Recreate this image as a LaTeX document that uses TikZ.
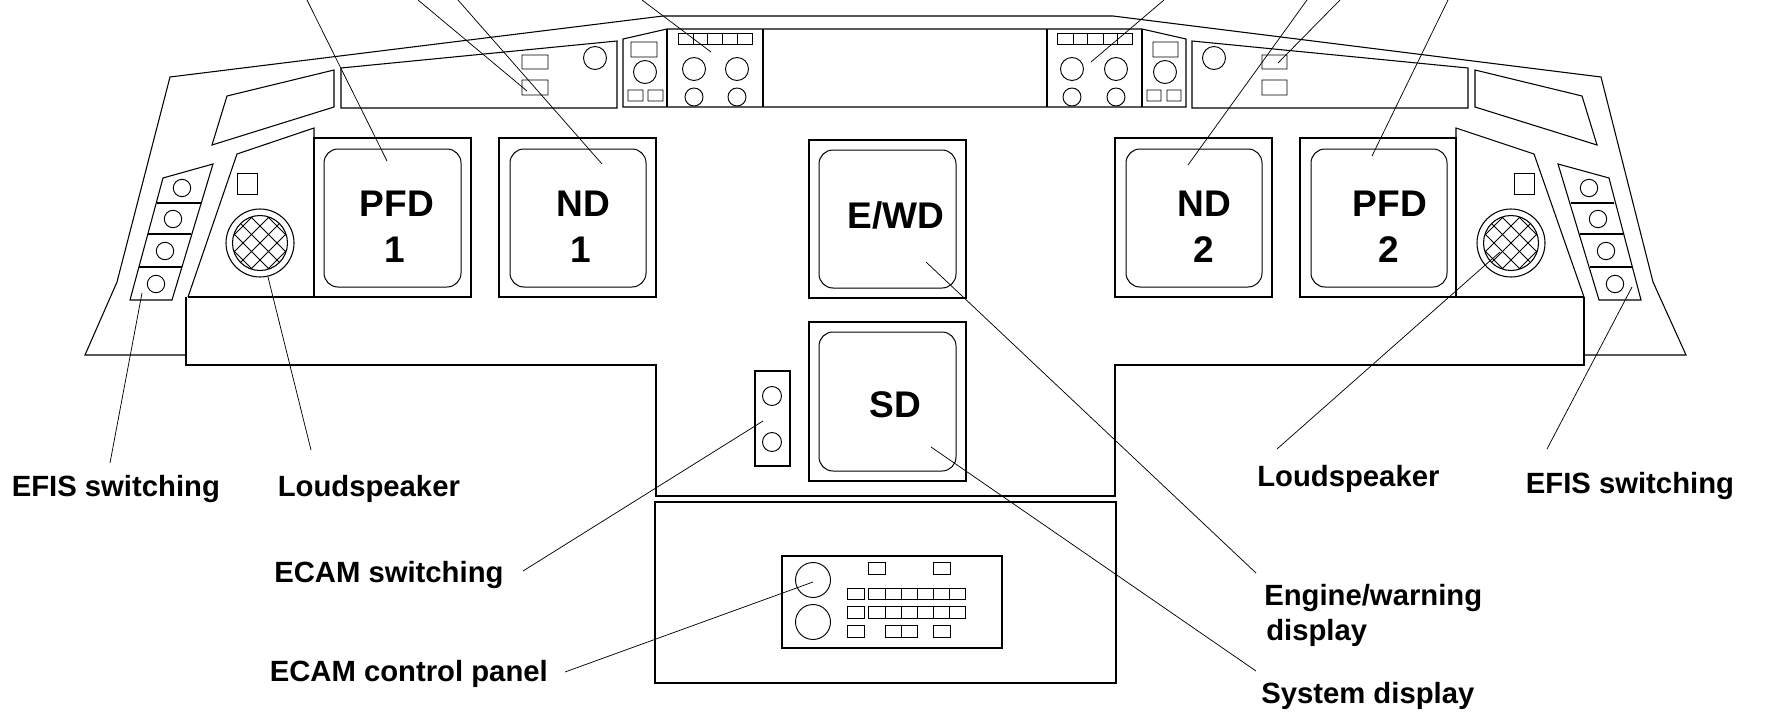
\documentclass[tikz,border=0pt]{standalone}
\usepackage{fontspec}
\setmainfont{Liberation Sans}
\tikzset{
  ln/.style={draw=black,line width=0.8pt,line join=miter},
  thin ln/.style={draw=black,line width=0.7pt},
  leader/.style={draw=black,line width=0.55pt},
  screen/.style={draw=black,line width=0.75pt,rounded corners=10.5pt},
  lbl/.style={inner sep=0pt,anchor=base west,font=\fontsize{21.95}{26}\selectfont\bfseries},
  big/.style={inner sep=0pt,anchor=base,font=\fontsize{27.8}{32}\selectfont\bfseries},
  hatchline/.style={draw=black,line width=0.6pt}
}
\newcommand{\Speaker}[3]{%
  \node[circle,minimum size=51pt,inner sep=0pt,ln] (#1) at (#2,#3) {};
  \begin{scope}
    \clip (#2,#3) circle (27.5);
    \foreach \d in {-51,-34,...,51} {
      \draw[hatchline] (#2-40,#3+\d-40) -- (#2+40,#3+\d+40);
      \draw[hatchline] (#2-40,#3+\d+40) -- (#2+40,#3+\d-40);
    }
  \end{scope}
  \draw[ln] (#2,#3) circle (27.5);
}
\begin{document}
\begin{tikzpicture}[x=0.75pt,y=-0.75pt]
\path[fill=white,use as bounding box] (0,0) rectangle (1791,717);

% outer shell
\draw[ln] (186,355) -- (85,355) -- (117,282) -- (170,77) -- (663,16) -- (1113,16) -- (1601,77) -- (1653,282) -- (1686,355) -- (1584,355);
\draw[ln] (186,297) -- (186,365) -- (656,365) -- (656,496) -- (1115,496) -- (1115,365) -- (1584,365) -- (1584,297);
\draw[ln] (188,297) -- (314,297);
\draw[ln] (1456,297) -- (1584,297);
\draw[ln] (655,502) rectangle (1116,683);

% upper panels
\draw[ln] (341,107) -- (341,68) -- (617,41) -- (617,108) -- (341,108) -- cycle;
\draw[ln] (1192,108) -- (1192,41) -- (1468,68) -- (1468,108) -- cycle;
\draw[ln] (334,70) -- (227,96) -- (212,145) -- (334,107) -- cycle;
\draw[ln] (1475,70) -- (1582,96) -- (1597,145) -- (1475,107) -- cycle;
\draw[thin ln] (522,55) rectangle (548,69) (522,80) rectangle (548,95) (595,58) circle (11.5);
\draw[thin ln] (1262,55) rectangle (1287,69) (1262,80) rectangle (1287,95) (1214,58) circle (11.5);

% centre top panel
\draw[ln] (623,107) -- (623,39) -- (667,29) -- (1142,29) -- (1186,39) -- (1186,107) -- cycle;
\draw[ln] (667,29) -- (667,107) (763,29) -- (763,107) (1047,29) -- (1047,107) (1142,29) -- (1142,107);
\draw[thin ln] (631,42) rectangle (657,57) (645,72) circle (11.5) (628,90) rectangle (643,101) (648,90) rectangle (663,101);
\draw[thin ln] (1153,42) rectangle (1178,57) (1165,72) circle (11.5) (1147,90) rectangle (1161,101) (1167,90) rectangle (1181,101);
\draw[thin ln] (678,33) rectangle (752,44);
\foreach \x in {693,707,722,737} \draw[thin ln] (\x,33) -- (\x,44);
\draw[thin ln] (694,69) circle (11.5) (737,69) circle (11.5) (694,97) circle (9) (737,97) circle (9);
\draw[thin ln] (1057,33) rectangle (1132,44);
\foreach \x in {1073,1087,1103,1117} \draw[thin ln] (\x,33) -- (\x,44);
\draw[thin ln] (1072,69) circle (11.5) (1116,69) circle (11.5) (1072,97) circle (9) (1116,97) circle (9);

% speaker panels
\draw[ln] (188,297) -- (237,154) -- (314,128) -- (314,297);
\draw[ln] (1584,297) -- (1534,154) -- (1456,128) -- (1456,297);
\draw[thin ln] (237,173) rectangle (257,194);
\draw[thin ln] (1514,173) rectangle (1534,194);
\Speaker{spkL}{260}{243}
\Speaker{spkR}{1511}{243}

% EFIS switching blocks
\draw[ln] (163,178) -- (213,164) -- (172,300) -- (130,300) -- cycle;
\draw[ln] (157,203) -- (201,203) (148,234) -- (191,234) (139,267) -- (182,267);
\draw[thin ln] (182,188) circle (8.7) (173,219) circle (8.7) (165,251) circle (8.7) (156,284) circle (8.7);
\draw[ln] (1609,178) -- (1558,164) -- (1599,300) -- (1641,300) -- cycle;
\draw[ln] (1571,203) -- (1614,203) (1580,234) -- (1623,234) (1590,267) -- (1632,267);
\draw[thin ln] (1589,188) circle (8.7) (1598,219) circle (8.7) (1606,251) circle (8.7) (1615,284) circle (8.7);

% display units
\draw[ln] (314,138) rectangle (471,297);
\draw[screen] (324,149) rectangle (461,287);
\draw[ln] (499,138) rectangle (656,297);
\draw[screen] (510,149) rectangle (646,287);
\draw[ln] (809,140) rectangle (966,298);
\draw[screen] (819,150) rectangle (956,288);
\draw[ln] (809,322) rectangle (966,481);
\draw[screen] (819,332) rectangle (956,471);
\draw[ln] (1115,138) rectangle (1272,297);
\draw[screen] (1126,149) rectangle (1262,287);
\draw[ln] (1300,138) rectangle (1456,297);
\draw[screen] (1311,149) rectangle (1447,287);

% ECAM switching
\draw[ln] (755,371) rectangle (790,466);
\draw[thin ln] (772,396) circle (9.5) (772,442) circle (9.5);

% ECAM control panel
\draw[ln] (782,556) rectangle (1002,648);
\draw[thin ln] (813,580) circle (17.5) (813,622) circle (17.5);
\draw[thin ln] (868,562) rectangle (885,574) (933,562) rectangle (950,574);
\foreach \yt/\yb in {588/599,606/618} {
  \draw[thin ln] (847,\yt) rectangle (864,\yb) (868,\yt) rectangle (965,\yb);
  \foreach \x in {885,901,917,933,949} \draw[thin ln] (\x,\yt) -- (\x,\yb);
}
\draw[thin ln] (847,625) rectangle (864,637) (885,625) rectangle (917,637) (901,625) -- (901,637) (933,625) rectangle (950,637);

% display texts
\node[big] (pfdA) at (397,216) {PFD};
\node[big] (pfdAn) at (395,262) {1};
\node[big] (ndA) at (583,216) {ND};
\node[big] (ndAn) at (581,262) {1};
\node[big] (ewd) at (896,228) {E/WD};
\node[big] (sd) at (895.5,417) {SD};
\node[big] (ndB) at (1204,216) {ND};
\node[big] (ndBn) at (1203.5,262) {2};
\node[big] (pfdB) at (1390,216) {PFD};
\node[big] (pfdBn) at (1389,262) {2};

% labels
\node[lbl] (efisL) at (11.5,496) {EFIS switching};
\node[lbl] (loudL) at (277.5,496) {Loudspeaker};
\node[lbl] (ecamsw) at (274,582) {ECAM switching};
\node[lbl] (ecamcp) at (269.5,681) {ECAM control panel};
\node[lbl] (eng) at (1264,605) {Engine/warning};
\node[lbl] (engb) at (1266,640) {display};
\node[lbl] (sys) at (1261,703) {System display};
\node[lbl] (loudR) at (1257,486) {Loudspeaker};
\node[lbl] (efisR) at (1525.6,493) {EFIS switching};

% leader ends
\coordinate (a1) at (307,0);      \coordinate (a2) at (387,161);
\coordinate (b1) at (418,0);      \coordinate (b2) at (527,91);
\coordinate (c1) at (458,0);      \coordinate (c2) at (602,164);
\coordinate (d1) at (642,0);      \coordinate (d2) at (711,52);
\coordinate (e1) at (1164,0);     \coordinate (e2) at (1091,62);
\coordinate (f1) at (1307,0);     \coordinate (f2) at (1188,165);
\coordinate (g1) at (1340,0);     \coordinate (g2) at (1278,63);
\coordinate (h1) at (1448,0);     \coordinate (h2) at (1372,156);
\coordinate (i1) at (142,293);    \coordinate (i2) at (110,463);
\coordinate (j1) at (268,277);    \coordinate (j2) at (311,450);
\coordinate (k1) at (1500,252);   \coordinate (k2) at (1277,449);
\coordinate (l1) at (1632,287);   \coordinate (l2) at (1547,449);
\coordinate (m1) at (926,262);    \coordinate (m2) at (1256,573);
\coordinate (n1) at (931,447);    \coordinate (n2) at (1256,671);
\coordinate (o1) at (763,421);    \coordinate (o2) at (523,571);
\coordinate (p1) at (813,582);    \coordinate (p2) at (565,672);
\foreach \q in {a,b,c,d,e,f,g,h,i,j,k,l,m,n,o,p} \draw[leader] (\q1) -- (\q2);
\end{tikzpicture}
\end{document}
